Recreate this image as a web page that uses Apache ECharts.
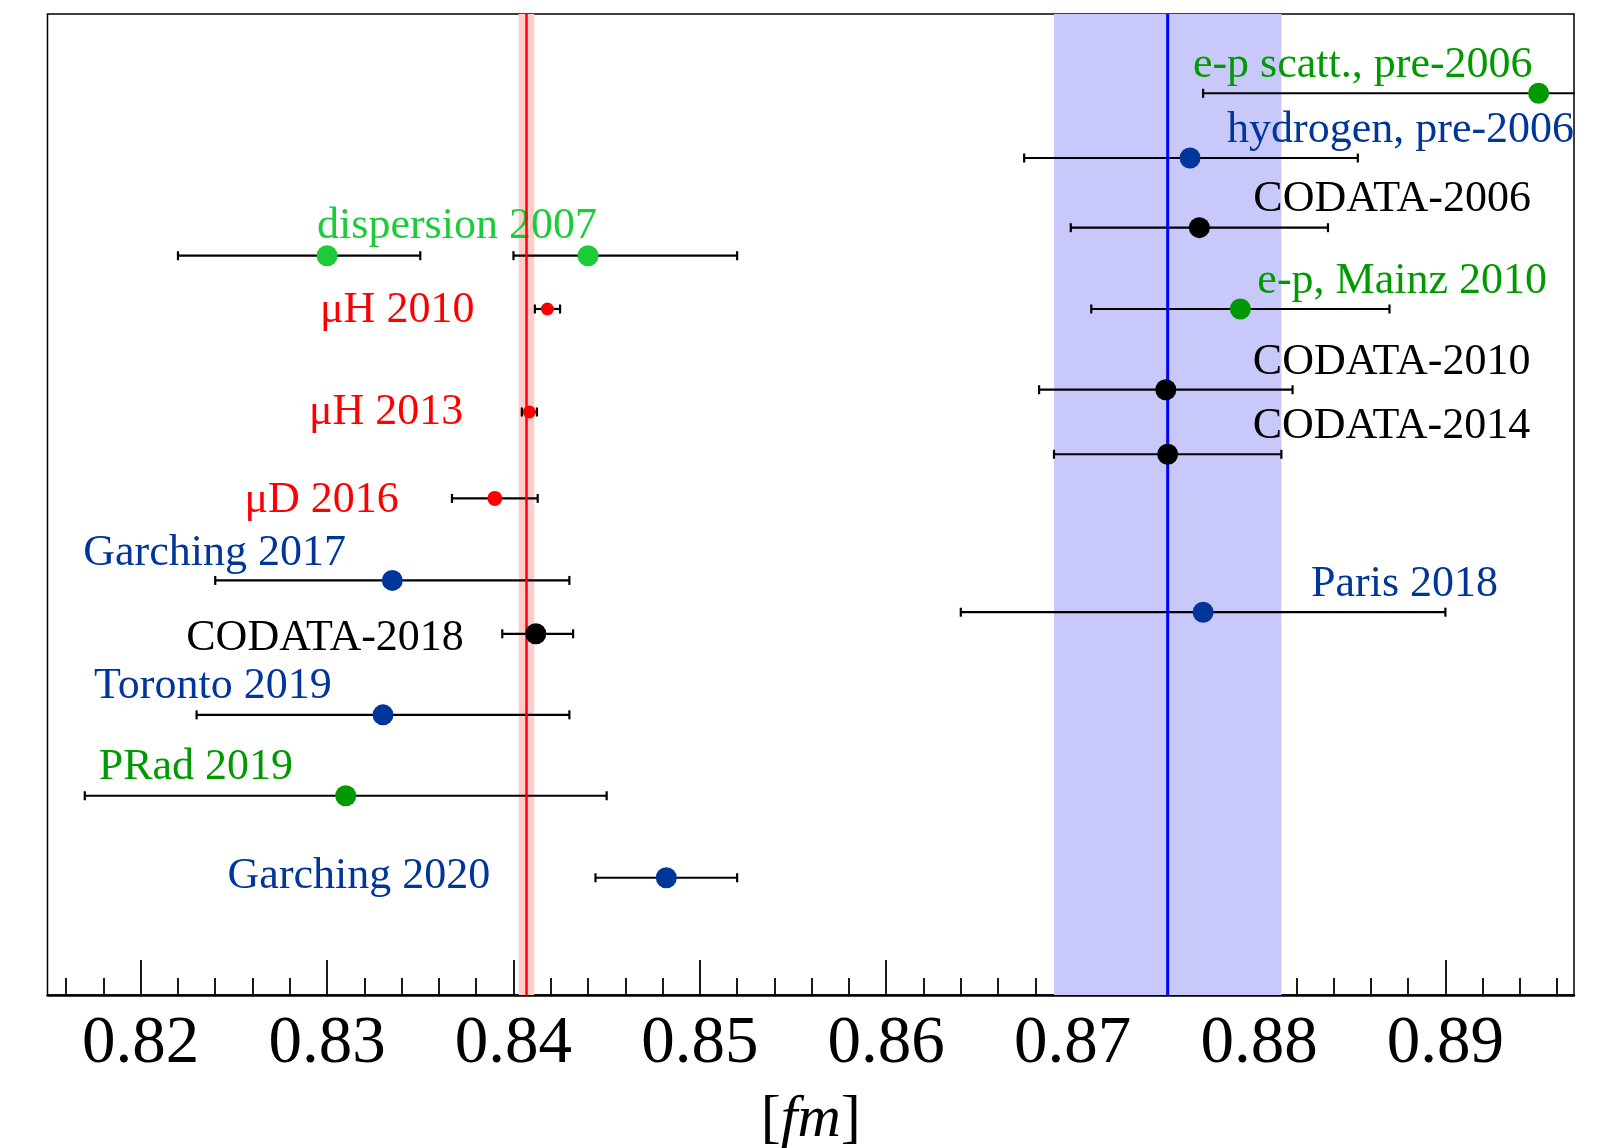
<!DOCTYPE html>
<html>
<head>
<meta charset="utf-8">
<title>Proton charge radius determinations</title>
<script src="https://cdn.jsdelivr.net/npm/echarts@6/dist/echarts.min.js"></script>
<style>
  html, body { margin: 0; padding: 0; background: #ffffff; }
  #chart { width: 1608px; height: 1148px; }
</style>
</head>
<body>
<div id="chart"></div>
<script>
// ---- data: proton charge radius r_p in fm ----
const names = [
  'e-p scatt., pre-2006', 'hydrogen, pre-2006', 'CODATA-2006',
  'dispersion 2007', '', 'e-p, Mainz 2010', 'μH 2010', 'CODATA-2010',
  'μH 2013', 'CODATA-2014', 'μD 2016', 'Garching 2017', 'Paris 2018',
  'CODATA-2018', 'Toronto 2019', 'PRad 2019', 'Garching 2020'
];
const radius = [0.895, 0.8763, 0.8768, 0.830, 0.844, 0.879, 0.84182, 0.8750,
  0.84085, 0.8751, 0.8390, 0.8335, 0.8770, 0.8412, 0.8330, 0.8310, 0.8482];
const lower = [0.877, 0.8674, 0.8699, 0.822, 0.840, 0.871, 0.84115, 0.8682,
  0.84045, 0.8690, 0.8367, 0.8240, 0.8640, 0.8394, 0.8230, 0.8170, 0.8444];
const upper = [0.913, 0.8853, 0.8837, 0.835, 0.852, 0.887, 0.84250, 0.8818,
  0.84126, 0.8812, 0.8413, 0.8430, 0.8900, 0.8432, 0.8430, 0.8450, 0.8520];
// vertical slot of each entry (0 = top of frame, 100 = bottom)
const row = [8.08, 14.68, 21.78, 24.64, 24.64, 30.07, 30.07, 38.3, 40.57,
  44.88, 49.38, 57.74, 60.98, 63.18, 71.44, 79.69, 88.05];
const kind = ['ep', 'hyd', 'codata', 'disp', 'disp', 'ep', 'muon', 'codata',
  'muon', 'codata', 'muon', 'hyd', 'hyd', 'codata', 'hyd', 'ep', 'hyd'];
// reference bands: muonic hydrogen and CODATA-2014
const bandCenter = [0.8407, 0.8751];
const bandHalfWidth = [0.00042, 0.0061];
const bandKind = ['muon', 'codata14'];
const majorTicks = [0.82, 0.83, 0.84, 0.85, 0.86, 0.87, 0.88, 0.89];
const minorTicks = [0.816, 0.818, 0.822, 0.824, 0.826, 0.828, 0.832, 0.834,
  0.836, 0.838, 0.842, 0.844, 0.846, 0.848, 0.852, 0.854, 0.856, 0.858,
  0.862, 0.864, 0.866, 0.868, 0.872, 0.874, 0.876, 0.878, 0.882, 0.884,
  0.886, 0.888, 0.892, 0.894, 0.896];

// ---- styles ----
const SERIF = '"Liberation Serif", "Times New Roman", serif';
const colors = {
  ep: '#009a00', hyd: '#00359a', codata: '#000000', disp: '#1ccb3a', muon: '#ff0000'
};
const markerSize = { ep: 21, hyd: 21, codata: 21, disp: 21, muon: 13 };
const bandStyle = {
  muon: { fill: '#ffcccc', line: '#ff0000', lineWidth: 2.5 },
  codata14: { fill: '#c8c8fa', line: '#0000ff', lineWidth: 3 }
};
// label placement relative to the marker, in pixels
const labelLayout = [
  { align: 'right', dx: -6, dy: -28 },
  { align: 'left', dx: 37, dy: -28 },
  { align: 'left', dx: 54, dy: -28 },
  { align: 'left', dx: -10, dy: -29 },
  { align: 'left', dx: 0, dy: 0 },
  { align: 'left', dx: 17, dy: -28 },
  { align: 'right', dx: -73, dy: 1 },
  { align: 'left', dx: 87, dy: -27 },
  { align: 'right', dx: -66, dy: 0 },
  { align: 'left', dx: 85, dy: -28 },
  { align: 'right', dx: -96, dy: 2 },
  { align: 'left', dx: -309, dy: -27 },
  { align: 'left', dx: 108, dy: -28 },
  { align: 'right', dx: -72, dy: 5 },
  { align: 'left', dx: -289, dy: -28 },
  { align: 'left', dx: -247, dy: -28 },
  { align: 'right', dx: -176, dy: -1 }
];
const sizeOverride = { 10: 15 };

const entries = names.map((n, i) => [radius[i], row[i], lower[i], upper[i], i]);
const bands = bandCenter.map((c, i) => [c, bandHalfWidth[i], i]);

const chart = echarts.init(document.getElementById('chart'), null, { renderer: 'canvas' });

const gridBox = { left: 47.5, right: 34, top: 14, bottom: 153 };
const xRange = { min: 0.815, max: 0.8969 };

const option = {
  animation: false,
  backgroundColor: '#ffffff',
  grid: [
    Object.assign({ show: true, borderColor: '#000000', borderWidth: 1.5,
      containLabel: false, outerBoundsMode: 'none' }, gridBox),
    // twin grid carrying the short minor ticks
    Object.assign({ show: false, containLabel: false, outerBoundsMode: 'none' }, gridBox)
  ],
  xAxis: [
    {
      type: 'value', gridIndex: 0, min: xRange.min, max: xRange.max, position: 'bottom',
      splitLine: { show: false },
      axisLine: { show: true, onZero: false, lineStyle: { color: '#000', width: 2.5 } },
      axisTick: { show: true, inside: true, length: 35, customValues: majorTicks,
        lineStyle: { color: '#000', width: 1.8 } },
      axisLabel: {
        show: true, customValues: majorTicks, margin: 16,
        formatter: v => v.toFixed(2),
        fontFamily: SERIF, fontSize: 67, color: '#000'
      },
      name: '[{i|fm}]',
      nameLocation: 'middle', nameGap: 95,
      nameTextStyle: {
        fontFamily: SERIF, fontSize: 60, color: '#000',
        rich: { i: { fontFamily: SERIF, fontSize: 60, fontStyle: 'italic', color: '#000' } }
      }
    },
    {
      type: 'value', gridIndex: 1, min: xRange.min, max: xRange.max, position: 'bottom',
      splitLine: { show: false },
      axisLine: { show: false, onZero: false },
      axisTick: { show: true, inside: true, length: 17, customValues: minorTicks,
        lineStyle: { color: '#000', width: 1.8 } },
      axisLabel: { show: false }
    }
  ],
  yAxis: [
    { type: 'value', gridIndex: 0, min: 0, max: 100, inverse: true, show: false },
    { type: 'value', gridIndex: 1, min: 0, max: 100, inverse: true, show: false }
  ],
  series: [
    {
      // shaded reference bands
      type: 'custom', name: 'bands', z: 1, clip: true,
      data: bands,
      renderItem: (params, api) => {
        const st = bandStyle[bandKind[api.value(2)]];
        const p0 = api.coord([api.value(0) - api.value(1), 0]);
        const p1 = api.coord([api.value(0) + api.value(1), 100]);
        return { type: 'rect', shape: { x: p0[0], y: p0[1], width: p1[0] - p0[0], height: p1[1] - p0[1] },
          style: { fill: st.fill } };
      }
    },
    {
      // entry names
      type: 'custom', name: 'labels', z: 2,
      data: entries,
      renderItem: (params, api) => {
        const i = api.value(4);
        const p = api.coord([api.value(0), api.value(1)]);
        const lay = labelLayout[i];
        return { type: 'text', x: p[0] + lay.dx, y: p[1] + lay.dy,
          style: { text: names[i], fill: colors[kind[i]], fontFamily: SERIF, fontSize: 44,
            align: lay.align, verticalAlign: 'middle' } };
      }
    },
    {
      // horizontal uncertainty bars with end caps
      type: 'custom', name: 'errors', z: 3, clip: true,
      data: entries,
      renderItem: (params, api) => {
        const lo = api.coord([api.value(2), api.value(1)]);
        const hi = api.coord([api.value(3), api.value(1)]);
        const cap = 4.5;
        const st = { stroke: '#000', lineWidth: 2.2 };
        return { type: 'group', children: [
          { type: 'line', shape: { x1: lo[0], y1: lo[1], x2: hi[0], y2: hi[1] }, style: st },
          { type: 'line', shape: { x1: lo[0], y1: lo[1] - cap, x2: lo[0], y2: lo[1] + cap }, style: st },
          { type: 'line', shape: { x1: hi[0], y1: hi[1] - cap, x2: hi[0], y2: hi[1] + cap }, style: st }
        ] };
      }
    },
    {
      // central values of the reference bands
      type: 'custom', name: 'bandLines', z: 4, clip: true,
      data: bands,
      renderItem: (params, api) => {
        const st = bandStyle[bandKind[api.value(2)]];
        const p0 = api.coord([api.value(0), 0]);
        const p1 = api.coord([api.value(0), 100]);
        return { type: 'line', shape: { x1: p0[0], y1: p0[1], x2: p1[0], y2: p1[1] },
          style: { stroke: st.line, lineWidth: st.lineWidth } };
      }
    },
    {
      type: 'scatter', name: 'points', z: 5, symbol: 'circle', clip: false,
      itemStyle: { opacity: 1 },
      emphasis: { disabled: true },
      data: entries.map((e, i) => ({
        value: [e[0], e[1]],
        symbolSize: sizeOverride[i] || markerSize[kind[i]],
        itemStyle: { color: colors[kind[i]], opacity: 1 }
      }))
    }
  ]
};
chart.setOption(option);
</script>
</body>
</html>
